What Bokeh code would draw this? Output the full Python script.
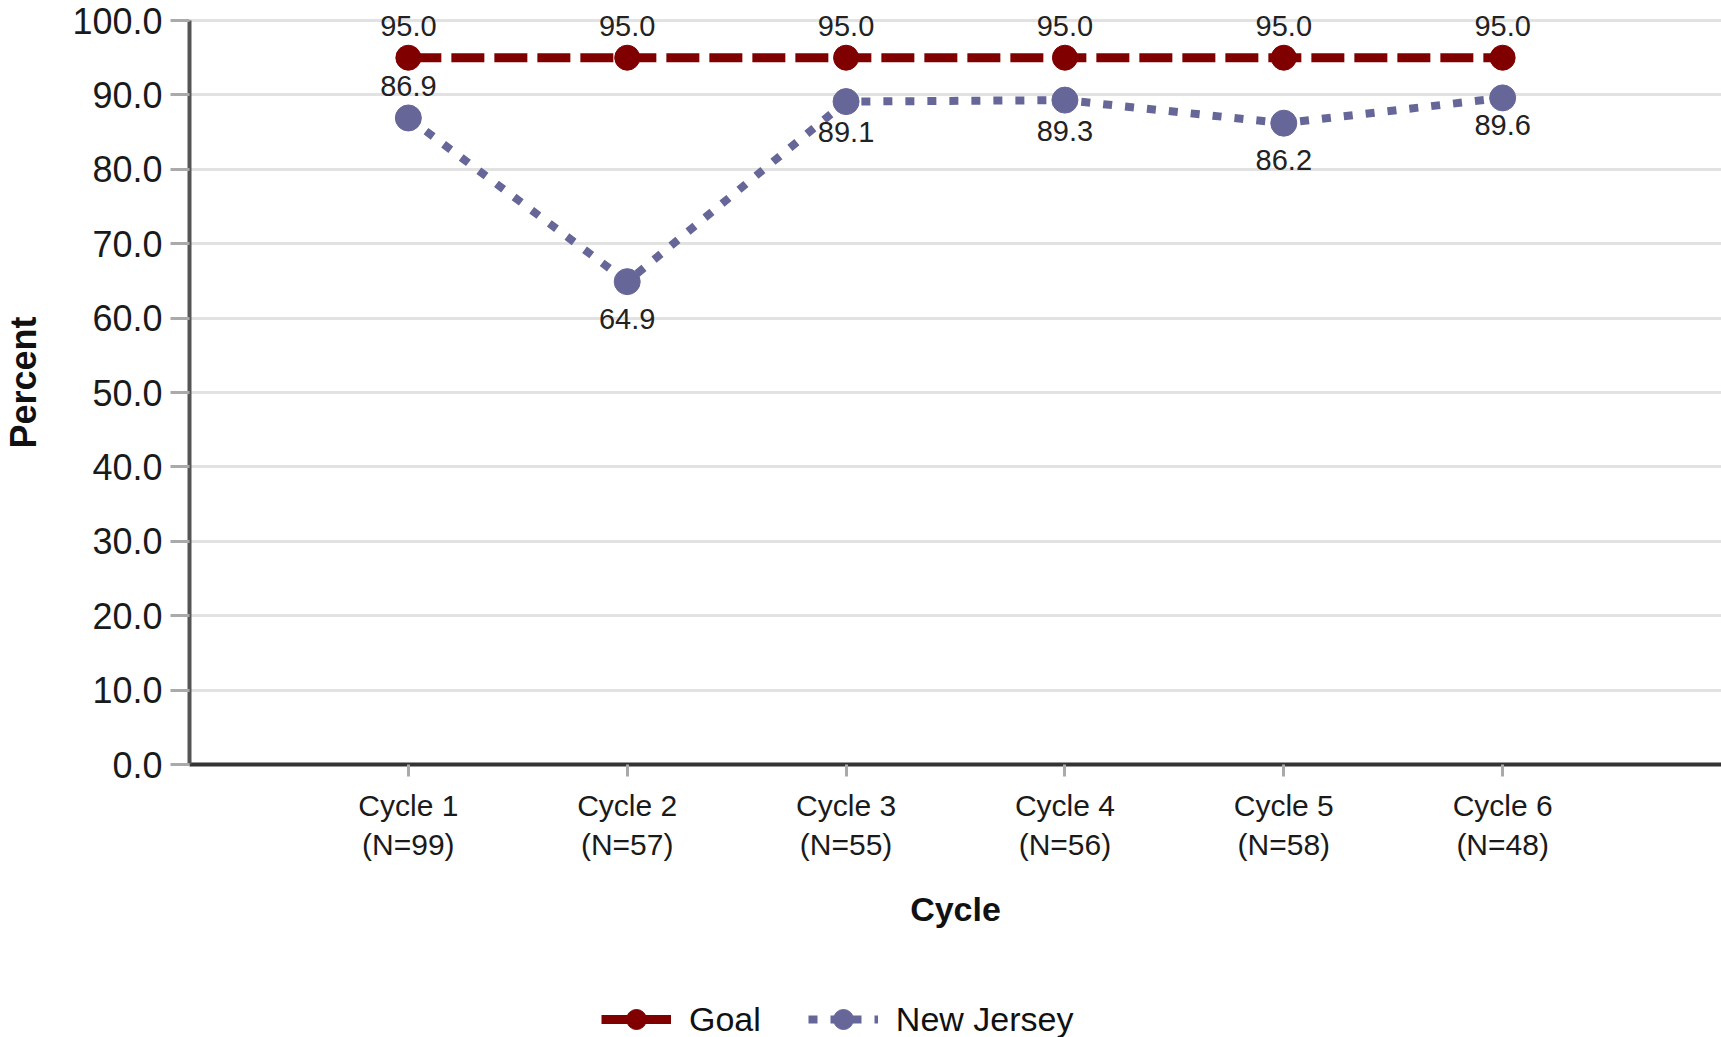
from bokeh.plotting import figure
from bokeh.models import (ColumnDataSource, Range1d, FixedTicker, PrintfTickFormatter,
                          LabelSet, Legend, LegendItem)
from bokeh.core.properties import value
from bokeh.layouts import column
from bokeh.embed import file_html
from bokeh.resources import INLINE

# ---- data ----
cycles = ["Cycle 1", "Cycle 2", "Cycle 3", "Cycle 4", "Cycle 5", "Cycle 6"]
n_counts = [99, 57, 55, 56, 58, 48]
goal = [95.0, 95.0, 95.0, 95.0, 95.0, 95.0]
new_jersey = [86.9, 64.9, 89.1, 89.3, 86.2, 89.6]
y_ticks = [0, 10, 20, 30, 40, 50, 60, 70, 80, 90, 100]

# label placement (screen px, + is above the point)
nj_label_offset = [32, -37, -30, -31, -37, -27]
goal_label_offset = 32

FONT = "Liberation Sans"
RED = "#800000"
BLUE = "#666699"

xpos = list(range(1, len(cycles) + 1))
tick_labels = {x: f"{c}\n(N={n})" for x, c, n in zip(xpos, cycles, n_counts)}

p = figure(width=1721, height=980, x_range=Range1d(0, 7.0), y_range=Range1d(0, 102.69),
           output_backend="svg", toolbar_location=None,
           min_border_left=189, min_border_right=0, min_border_top=0, min_border_bottom=216)
p.outline_line_color = None
p.background_fill_color = "white"

# grid
p.xgrid.grid_line_color = None
p.ygrid.grid_line_color = "#e2e2e2"
p.ygrid.grid_line_width = 3

# axes
p.yaxis.bounds = (0, 100)
p.yaxis.ticker = FixedTicker(ticks=y_ticks)
p.yaxis.formatter = PrintfTickFormatter(format="%.1f")
p.yaxis.axis_line_color = "#555555"
p.yaxis.axis_line_width = 4
p.yaxis.major_tick_line_color = "#aaaaaa"
p.yaxis.major_tick_line_width = 3
p.yaxis.major_tick_out = 19
p.yaxis.major_tick_in = 0
p.yaxis.minor_tick_line_color = None
p.yaxis.major_label_standoff = 8
p.yaxis.major_label_text_font = FONT
p.yaxis.major_label_text_font_size = "36px"
p.yaxis.major_label_text_color = "#1a1a1a"
p.yaxis.axis_label = "Percent"
p.yaxis.axis_label_text_font = FONT
p.yaxis.axis_label_text_font_size = "36px"
p.yaxis.axis_label_text_font_style = "bold"
p.yaxis.axis_label_text_color = "#111111"
p.yaxis.axis_label_standoff = 25

p.xaxis.ticker = FixedTicker(ticks=xpos)
p.xaxis.major_label_overrides = tick_labels
p.xaxis.axis_line_color = "#333333"
p.xaxis.axis_line_width = 4
p.xaxis.major_tick_line_color = "#aaaaaa"
p.xaxis.major_tick_line_width = 3
p.xaxis.major_tick_out = 12
p.xaxis.major_tick_in = 0
p.xaxis.minor_tick_line_color = None
p.xaxis.major_label_standoff = 12
p.xaxis.major_label_text_font = FONT
p.xaxis.major_label_text_font_size = "30px"
p.xaxis.major_label_text_color = "#1a1a1a"
p.xaxis.axis_label = "Cycle"
p.xaxis.axis_label_text_font = FONT
p.xaxis.axis_label_text_font_size = "34px"
p.xaxis.axis_label_text_font_style = "bold"
p.xaxis.axis_label_text_color = "#111111"
p.xaxis.axis_label_standoff = 26

# series
goal_src = ColumnDataSource(dict(x=xpos, y=goal, t=[f"{v:.1f}" for v in goal]))
nj_src = ColumnDataSource(dict(x=xpos, y=new_jersey, t=[f"{v:.1f}" for v in new_jersey],
                               off=nj_label_offset))

line_styles = dict(
    goal=dict(line_color=RED, line_width=9, line_dash="33 10"),
    nj=dict(line_color=BLUE, line_width=8, line_dash="9 13"),
)

p.line("x", "y", source=goal_src, **line_styles["goal"])
p.scatter("x", "y", source=goal_src, size=25, fill_color=RED, line_color=RED)
p.line("x", "y", source=nj_src, **line_styles["nj"])
p.scatter("x", "y", source=nj_src, size=26, fill_color=BLUE, line_color=BLUE)

goal_labels = LabelSet(x="x", y="y", text="t", source=goal_src, y_offset=goal_label_offset,
                       text_align="center", text_baseline="middle",
                       text_font=value(FONT), text_font_size="29px", text_color="#222222")
nj_labels = LabelSet(x="x", y="y", text="t", source=nj_src, y_offset="off",
                     text_align="center", text_baseline="middle",
                     text_font=value(FONT), text_font_size="29px", text_color="#222222")
p.add_layout(goal_labels)
p.add_layout(nj_labels)

# ---- legend strip (its own small figure; series renderers lie outside its ranges) ----
lf = figure(width=1721, height=57, x_range=Range1d(100, 101), y_range=Range1d(0, 1),
            output_backend="svg", toolbar_location=None, x_axis_type=None, y_axis_type=None,
            min_border_left=0, min_border_right=0, min_border_top=0, min_border_bottom=0)
lf.outline_line_color = None
lf.grid.visible = False
lg_line = lf.line("x", "y", source=goal_src, **line_styles["goal"])
lg_pts = lf.scatter("x", "y", source=goal_src, size=25, fill_color=RED, line_color=RED)
ln_line = lf.line("x", "y", source=nj_src, **line_styles["nj"])
ln_pts = lf.scatter("x", "y", source=nj_src, size=26, fill_color=BLUE, line_color=BLUE)

legend = Legend(items=[LegendItem(label="Goal", renderers=[lg_line, lg_pts]),
                       LegendItem(label="New Jersey", renderers=[ln_line, ln_pts])],
                location=(412, -7), orientation="horizontal",
                glyph_width=70, glyph_height=50, label_standoff=18, spacing=47,
                padding=0, margin=0, border_line_color=None, background_fill_alpha=0,
                label_text_font=FONT, label_text_font_size="34px", label_text_color="#111111")
lf.add_layout(legend, "center")

open("out.html", "w").write(file_html(column(p, lf, spacing=0), INLINE))
